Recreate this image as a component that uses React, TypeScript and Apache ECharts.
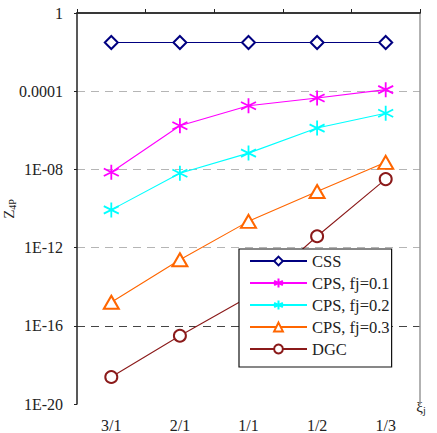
import React, { useEffect, useRef } from "react";
import * as echarts from "echarts";

const categories = ["3/1", "2/1", "1/1", "1/2", "1/3"];
const seriesNames = ["CSS", "CPS, fj=0.1", "CPS, fj=0.2", "CPS, fj=0.3", "DGC"];
const cssValues = [0.031, 0.031, 0.031, 0.031, 0.031];
const cps01Values = [7.2e-9, 1.7e-6, 1.8e-5, 4.5e-5, 1.2e-4];
const cps02Values = [8.5e-11, 6.4e-9, 6.8e-8, 1.3e-6, 7.5e-6];
const cps03Values = [1.6e-15, 2.4e-13, 2.2e-11, 7.4e-10, 2.3e-8];
const dgcValues = [2.4e-19, 3.1e-17, 3.0e-15, 3.8e-12, 3.2e-9];
const yTickExponents = [-20, -16, -12, -8, -4, 0];
const yTickLabels = ["1E-20", "1E-16", "1E-12", "1E-08", "0.0001", "1"];

const FONT = "'Liberation Serif', 'Times New Roman', serif";
const STAR = "path://M10,0L10,20M1.34,5L18.66,15M1.34,15L18.66,5";

const toLog = (arr: number[]) => arr.map((v) => Math.log10(v));

export default function App() {
  const ref = useRef<HTMLDivElement>(null);
  useEffect(() => {
    if (!ref.current) return;
    const chart = echarts.init(ref.current, null, { renderer: "svg" });
    const mk = (
      name: string,
      values: number[],
      color: string,
      symbol: string,
      size: number | number[],
      extra: any = {}
    ) => ({
      name,
      type: "line",
      data: toLog(values),
      symbol,
      symbolSize: size,
      showAllSymbol: true,
      lineStyle: { color, width: 1.1 },
      itemStyle: { color, borderColor: color, borderWidth: 1.8, ...extra },
      emphasis: { disabled: true },
      z: 3,
    });
    chart.setOption({
      animation: false,
      backgroundColor: "#fff",
      textStyle: { fontFamily: FONT },
      grid: {
        left: 77,
        right: 17,
        top: 13,
        bottom: 29,
        containLabel: false,
        outerBoundsMode: "none",
      },
      legend: {
        orient: "vertical",
        left: 239,
        top: 249,
        data: seriesNames,
        itemWidth: 57,
        itemHeight: 11,
        itemGap: 4,
        padding: [3, 2, 9, 10],
        backgroundColor: "#fff",
        borderColor: "#111",
        borderWidth: 1.2,
        borderRadius: 0,
        selectedMode: false,
        textStyle: { fontFamily: FONT, fontSize: 16.5, color: "#222", lineHeight: 18 },
      },
      xAxis: [
        {
          type: "category",
          data: categories,
          position: "bottom",
          boundaryGap: true,
          axisLine: { lineStyle: { color: "#555", width: 1.5 } },
          axisTick: { show: false },
          axisLabel: { fontFamily: FONT, fontSize: 16, color: "#222", margin: 13 },
          splitLine: { show: false },
        },
        {
          type: "category",
          data: categories,
          position: "top",
          boundaryGap: true,
          axisLine: { lineStyle: { color: "#222", width: 1.5 } },
          axisTick: { show: true, inside: false, length: 4, lineStyle: { color: "#222", width: 1 } },
          axisLabel: { show: false },
          splitLine: { show: false },
        },
      ],
      yAxis: [
        {
          type: "value",
          min: -20,
          max: 0,
          interval: 4,
          position: "left",
          axisLine: { show: true, lineStyle: { color: "#222", width: 1.5 } },
          axisTick: { show: true, length: 3, lineStyle: { color: "#222" } },
          axisLabel: {
            fontFamily: FONT,
            fontSize: 16,
            color: "#222",
            margin: 14,
            formatter: (v: number) => {
              const i = yTickExponents.indexOf(Math.round(v));
              return i >= 0 ? yTickLabels[i] : "";
            },
          },
          splitLine: {
            show: true,
            showMinLine: false,
            showMaxLine: false,
            lineStyle: {
              color: ["#444", "#b5b5b5", "#b5b5b5", "#b5b5b5"],
              type: [8, 6],
              width: 1.2,
            },
          },
        },
        {
          type: "value",
          min: -20,
          max: 0,
          interval: 4,
          position: "right",
          axisLine: { show: true, lineStyle: { color: "#999", width: 1.5 } },
          axisTick: { show: false },
          axisLabel: { show: false },
          splitLine: { show: false },
        },
      ],
      series: [
        mk(seriesNames[0], cssValues, "#000080", "emptyDiamond", 13),
        mk(seriesNames[1], cps01Values, "#ff00ff", STAR, 15, { borderWidth: 1.8 }),
        mk(seriesNames[2], cps02Values, "#00ffff", STAR, 15, { borderWidth: 1.8 }),
        mk(seriesNames[3], cps03Values, "#ff6600", "emptyTriangle", [15, 13]),
        mk(seriesNames[4], dgcValues, "#8b1a1a", "emptyCircle", 12),
      ],
      graphic: [
        {
          type: "text",
          x: 9,
          y: 209,
          rotation: Math.PI / 2,
          style: {
            text: "{a|Z}{b|4P}",
            align: "center",
            verticalAlign: "middle",
            rich: {
              a: { fontFamily: FONT, fontSize: 15, fill: "#222" },
              b: { fontFamily: FONT, fontSize: 10, fill: "#222", padding: [6, 0, 0, 0] },
            },
          },
        },
        {
          type: "text",
          x: 421,
          y: 407,
          style: {
            text: "{a|ξ}{b|j}",
            align: "center",
            verticalAlign: "middle",
            rich: {
              a: { fontFamily: FONT, fontSize: 15, fill: "#222" },
              b: { fontFamily: FONT, fontSize: 10, fill: "#222", padding: [6, 0, 0, 0] },
            },
          },
        },
      ],
    });
    return () => chart.dispose();
  }, []);
  return (
    <div
      ref={ref}
      style={{ position: "absolute", left: 0, top: 0, width: 437, height: 433 }}
    />
  );
}
